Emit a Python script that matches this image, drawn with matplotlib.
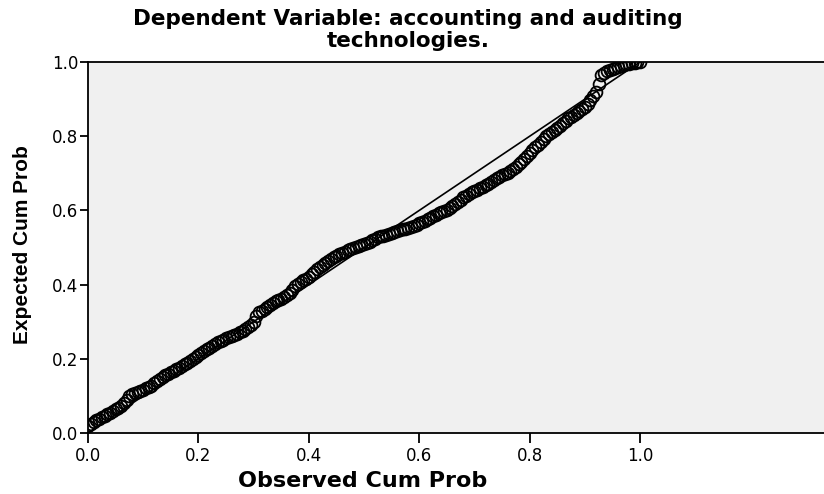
import matplotlib
matplotlib.use("Agg")
import matplotlib.pyplot as plt

# P-P plot values
observed = [
    0.000, 0.005, 0.010, 0.015, 0.020, 0.025, 0.030, 0.035, 0.040, 0.045,
    0.050, 0.055, 0.060, 0.065, 0.070, 0.075, 0.080, 0.085, 0.090, 0.095,
    0.100, 0.105, 0.110, 0.115, 0.120, 0.125, 0.130, 0.135, 0.140, 0.145,
    0.150, 0.155, 0.160, 0.165, 0.170, 0.175, 0.180, 0.185, 0.190, 0.195,
    0.200, 0.205, 0.210, 0.215, 0.220, 0.225, 0.230, 0.235, 0.240, 0.245,
    0.250, 0.255, 0.260, 0.265, 0.270, 0.275, 0.280, 0.285, 0.290, 0.295,
    0.300, 0.305, 0.310, 0.315, 0.320, 0.325, 0.330, 0.335, 0.340, 0.345,
    0.350, 0.355, 0.360, 0.365, 0.370, 0.375, 0.380, 0.385, 0.390, 0.395,
    0.400, 0.405, 0.410, 0.415, 0.420, 0.425, 0.430, 0.435, 0.440, 0.445,
    0.450, 0.455, 0.460, 0.465, 0.470, 0.475, 0.480, 0.485, 0.490, 0.495,
    0.500, 0.505, 0.510, 0.515, 0.520, 0.525, 0.530, 0.535, 0.540, 0.545,
    0.550, 0.555, 0.560, 0.565, 0.570, 0.575, 0.580, 0.585, 0.590, 0.595,
    0.600, 0.605, 0.610, 0.615, 0.620, 0.625, 0.630, 0.635, 0.640, 0.645,
    0.650, 0.655, 0.660, 0.665, 0.670, 0.675, 0.680, 0.685, 0.690, 0.695,
    0.700, 0.705, 0.710, 0.715, 0.720, 0.725, 0.730, 0.735, 0.740, 0.745,
    0.750, 0.755, 0.760, 0.765, 0.770, 0.775, 0.780, 0.785, 0.790, 0.795,
    0.800, 0.805, 0.810, 0.815, 0.820, 0.825, 0.830, 0.835, 0.840, 0.845,
    0.850, 0.855, 0.860, 0.865, 0.870, 0.875, 0.880, 0.885, 0.890, 0.895,
    0.900, 0.905, 0.910, 0.915, 0.920, 0.925, 0.930, 0.935, 0.940, 0.945,
    0.950, 0.955, 0.960, 0.965, 0.970, 0.975, 0.980, 0.985, 0.990, 0.995,
    1.000]
expected = [
    0.018, 0.025, 0.030, 0.035, 0.038, 0.042, 0.046, 0.050, 0.055, 0.060,
    0.064, 0.068, 0.074, 0.080, 0.090, 0.100, 0.106, 0.108, 0.110, 0.113,
    0.116, 0.120, 0.124, 0.128, 0.134, 0.140, 0.145, 0.150, 0.155, 0.160,
    0.165, 0.168, 0.172, 0.176, 0.180, 0.185, 0.190, 0.195, 0.200, 0.205,
    0.210, 0.216, 0.222, 0.226, 0.230, 0.235, 0.240, 0.244, 0.248, 0.252,
    0.255, 0.258, 0.262, 0.265, 0.268, 0.272, 0.275, 0.280, 0.286, 0.292,
    0.300, 0.315, 0.326, 0.330, 0.335, 0.340, 0.345, 0.350, 0.355, 0.358,
    0.362, 0.366, 0.372, 0.378, 0.386, 0.395, 0.402, 0.407, 0.412, 0.416,
    0.420, 0.428, 0.435, 0.442, 0.448, 0.453, 0.458, 0.464, 0.470, 0.474,
    0.478, 0.482, 0.485, 0.488, 0.492, 0.495, 0.498, 0.501, 0.505, 0.508,
    0.510, 0.513, 0.516, 0.520, 0.524, 0.527, 0.530, 0.532, 0.535, 0.537,
    0.540, 0.542, 0.545, 0.548, 0.550, 0.551, 0.553, 0.555, 0.558, 0.561,
    0.565, 0.568, 0.572, 0.576, 0.580, 0.584, 0.588, 0.592, 0.595, 0.598,
    0.602, 0.607, 0.612, 0.617, 0.622, 0.628, 0.635, 0.640, 0.645, 0.649,
    0.652, 0.656, 0.660, 0.664, 0.668, 0.672, 0.676, 0.681, 0.686, 0.690,
    0.695, 0.698, 0.702, 0.707, 0.712, 0.718, 0.725, 0.731, 0.738, 0.746,
    0.755, 0.762, 0.770, 0.777, 0.785, 0.792, 0.800, 0.806, 0.812, 0.817,
    0.822, 0.828, 0.835, 0.842, 0.848, 0.853, 0.858, 0.863, 0.868, 0.873,
    0.880, 0.888, 0.898, 0.908, 0.920, 0.942, 0.965, 0.970, 0.975, 0.978,
    0.982, 0.985, 0.987, 0.990, 0.992, 0.994, 0.995, 0.997, 0.998, 0.999,
    1.000]
ticks = [0.0, 0.2, 0.4, 0.6, 0.8, 1.0]
ref_line = [0.0, 1.0]

fig = plt.figure(figsize=(8.24, 4.94), dpi=100)
ax = fig.add_axes([0.1068, 0.1235, 0.8932, 0.751])
ax.set_facecolor("#f0f0f0")

ax.plot(ref_line, ref_line, color="black", linewidth=1.2, zorder=2)
ax.plot(observed, expected,
        linestyle="none",
        marker="o",
        markersize=8.5,
        markerfacecolor="none",
        markeredgecolor="black",
        markeredgewidth=1.3,
        zorder=3)

ax.set_xlim(0, 1.333)
ax.set_ylim(0, 1.0)
ax.set_xticks(ticks)
ax.set_yticks(ticks)
ax.set_xticklabels(["%.1f" % t for t in ticks], family="DejaVu Sans", fontsize=12)
ax.set_yticklabels(["%.1f" % t for t in ticks], family="DejaVu Sans", fontsize=12)
ax.tick_params(axis="x", direction="out", length=7, width=1.3, pad=3, colors="black")
ax.tick_params(axis="y", direction="out", length=6, width=1.3, pad=1, colors="black")
for s in ["left", "bottom", "top"]:
    ax.spines[s].set_linewidth(1.3)
ax.spines["right"].set_visible(False)

fig.text(0.495, 0.9494, "Dependent Variable: accounting and auditing",
         ha="center", va="baseline", fontsize=15.5, fontweight="bold",
         family="DejaVu Sans")
fig.text(0.495, 0.9049, "technologies.",
         ha="center", va="baseline", fontsize=15.5, fontweight="bold",
         family="DejaVu Sans")
fig.text(0.4405, 0.014, "Observed Cum Prob",
         ha="center", va="baseline", fontsize=16, fontweight="bold",
         family="DejaVu Sans")
fig.text(0.027, 0.504, "Expected Cum Prob", rotation=90,
         ha="center", va="center", fontsize=15, fontweight="bold",
         family="Liberation Sans")

fig.savefig("out.png", dpi=100)
